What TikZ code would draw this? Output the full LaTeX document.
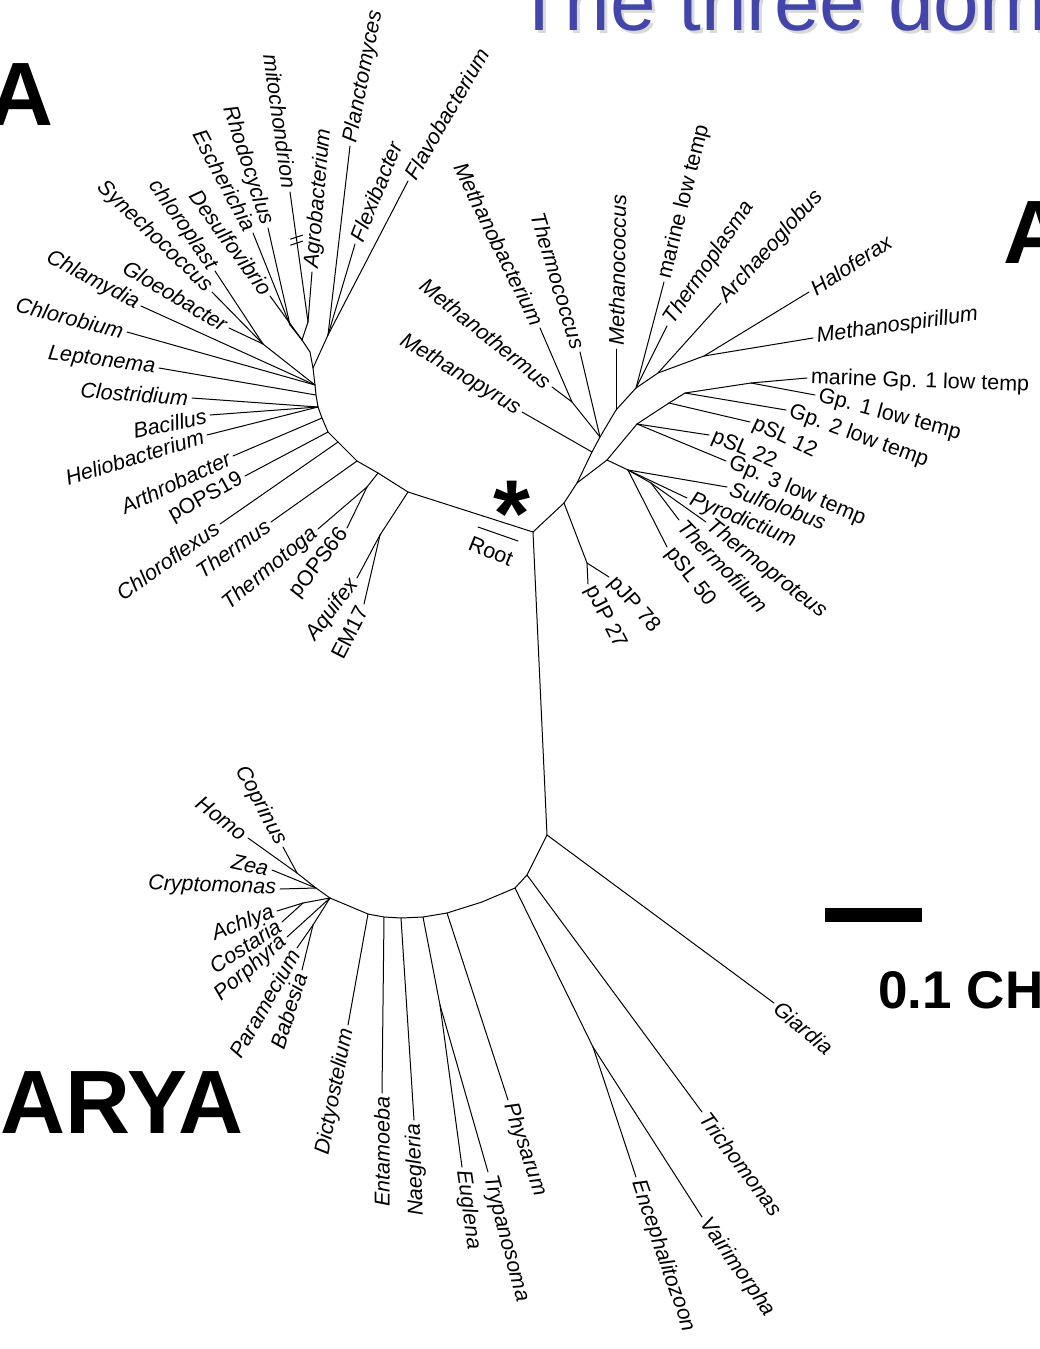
\documentclass[tikz,border=0pt]{standalone}
\usepackage{fontspec}
\setmainfont{Liberation Sans}
\definecolor{titleblue}{RGB}{66,70,170}
\tikzset{
  taxon/.style={font=\fontsize{21.5}{25}\selectfont\itshape,inner sep=3.5pt},
  clone/.style={font=\fontsize{21.5}{25}\selectfont,inner sep=3.5pt},
  domainlabel/.style={font=\fontsize{90}{94}\selectfont\bfseries,inner sep=0pt},
}
\begin{document}
\begin{tikzpicture}[x=1pt,y=-1pt,line width=1pt,line join=round,line cap=round]
\useasboundingbox (0,0) rectangle (1040,1349);
% headings
\node[anchor=base west,inner sep=0,text=black!15,font=\fontsize{82}{90}\selectfont](titleshadow)at(517, 33){The three dom};
\node[anchor=base west,inner sep=0,text=titleblue,font=\fontsize{82}{90}\selectfont](title)at(514, 30){The three dom};
\node[domainlabel,anchor=base east](bactA)at(54, 125){A};
\node[domainlabel,anchor=base west](archA)at(1003, 263){A};
\node[domainlabel,anchor=base west](eukA)at(0, 1133){ARYA};
\fill (825,908) rectangle (922,922);
\node[anchor=base west,inner sep=0,font=\fontsize{53}{60}\selectfont\bfseries](scale)at(878, 1008){0.1 CH};
\node[anchor=base west,inner sep=0,font=\fontsize{95}{100}\selectfont\bfseries](star)at(493, 546){*};
\node[clone,rotate=-22](rootlab)at(491, 551){Root};
\coordinate(rootA)at(478, 527);
\coordinate(rootB)at(518, 541);
\draw (rootA) -- (rootB);
% internal points
\coordinate(R)at(533, 532);
\coordinate(b1)at(408, 492);
\coordinate(b2)at(378, 473);
\coordinate(b3)at(357, 461);
\coordinate(b4)at(338, 442);
\coordinate(b5)at(328, 432);
\coordinate(b6)at(322, 418);
\coordinate(b7)at(318, 407);
\coordinate(b8)at(316, 395);
\coordinate(b9)at(315, 385);
\coordinate(b10)at(313, 368);
\coordinate(b11)at(310, 352);
\coordinate(aq)at(380, 535);
\coordinate(tt)at(367, 487);
\coordinate(cy)at(263, 344);
\coordinate(pl)at(328, 335);
\coordinate(pr)at(302, 340);
\coordinate(al)at(308, 322);
\coordinate(bg)at(290, 325);
\coordinate(a1)at(564, 503);
\coordinate(e1)at(577, 483);
\coordinate(e2)at(592, 452);
\coordinate(e3)at(600, 437);
\coordinate(e4)at(616, 410);
\coordinate(e5)at(636, 388);
\coordinate(e6)at(658, 373);
\coordinate(hh)at(704, 356);
\coordinate(mm)at(572, 402);
\coordinate(c1)at(607, 460);
\coordinate(c2)at(637, 424);
\coordinate(c3)at(669, 403);
\coordinate(c4)at(685, 393);
\coordinate(g1)at(751, 383);
\coordinate(ch)at(628, 470);
\coordinate(tp)at(651, 483);
\coordinate(pj)at(587, 563);
\coordinate(E0)at(547, 835);
\coordinate(E1)at(527, 875);
\coordinate(E2)at(515, 888);
\coordinate(E2b)at(482, 902);
\coordinate(E3)at(447, 913);
\coordinate(E4)at(423, 917);
\coordinate(E5)at(401, 918);
\coordinate(E6)at(384, 917);
\coordinate(E7)at(368, 914);
\coordinate(K0)at(330, 898);
\coordinate(K1)at(316, 888);
\coordinate(op)at(297, 873);
\coordinate(vj)at(593, 1047);
\coordinate(et)at(440, 1005);
\coordinate(st)at(303, 903);
\coordinate(av)at(313, 925);
% bacteria
\node[taxon,anchor=west,rotate=79](planct)at(350, 146){Planctomyces};
\node[taxon,anchor=west,rotate=60](flavo)at(408, 181){Flavobacterium};
\node[taxon,anchor=west,rotate=68](flexi)at(355, 244){Flexibacter};
\node[taxon,anchor=west,rotate=85](agro)at(312, 272){Agrobacterium};
\node[taxon,anchor=east,rotate=-82](mito)at(290, 192){mitochondrion};
\node[taxon,anchor=east,rotate=-72](rhodo)at(268, 228){Rhodocyclus};
\node[taxon,anchor=east,rotate=-62](esch)at(253, 233){Escherichia};
\node[taxon,anchor=east,rotate=-54](desulfo)at(270, 296){Desulfovibrio};
\node[taxon,anchor=east,rotate=-55](chloro)at(215, 271){chloroplast};
\node[taxon,anchor=east,rotate=-44](synecho)at(212, 292){Synechococcus};
\node[taxon,anchor=east,rotate=-31](gloeo)at(229, 328){Gloeobacter};
\node[taxon,anchor=east,rotate=-28](chlamy)at(141, 306){Chlamydia};
\node[taxon,anchor=east,rotate=-14](chlorob)at(127, 332){Chlorobium};
\node[taxon,anchor=east,rotate=-7](lepto)at(159, 368){Leptonema};
\node[taxon,anchor=east,rotate=-4](clostr)at(192, 398){Clostridium};
\node[taxon,anchor=east,rotate=12](bacil)at(210, 415){Bacillus};
\node[taxon,anchor=east,rotate=17](helio)at(207, 435){Heliobacterium};
\node[taxon,anchor=east,rotate=25](arthro)at(233, 456){Arthrobacter};
\node[clone,anchor=east,rotate=29](pops19)at(245, 476){pOPS19};
\node[taxon,anchor=east,rotate=35](chlflex)at(220, 524){Chloroflexus};
\node[taxon,anchor=east,rotate=35](thermus)at(271, 522){Thermus};
\node[taxon,anchor=east,rotate=40](thtoga)at(318, 529){Thermotoga};
\node[clone,anchor=east,rotate=52](pops66)at(347, 528){pOPS66};
\node[taxon,anchor=east,rotate=53](aquifex)at(357, 578){Aquifex};
\node[clone,anchor=east,rotate=63](em17)at(364, 604){EM17};
% archaea
\node[taxon,anchor=east,rotate=-31](mpyrus)at(522, 412){Methanopyrus};
\node[taxon,anchor=east,rotate=-39](mthermus)at(552, 387){Methanothermus};
\node[taxon,anchor=east,rotate=-64](mbact)at(540, 328){Methanobacterium};
\node[taxon,anchor=east,rotate=-73](thcoccus)at(580, 352){Thermococcus};
\node[taxon,anchor=west,rotate=89](mcoccus)at(616, 349){Methanococcus};
\node[clone,anchor=west,rotate=76](marlow)at(664, 282){marine low temp};
\node[taxon,anchor=west,rotate=56](thplasma)at(667, 326){Thermoplasma};
\node[taxon,anchor=west,rotate=48](archaeo)at(721, 303){Archaeoglobus};
\node[taxon,anchor=west,rotate=33](hfx)at(809, 292){Haloferax};
\node[taxon,anchor=west,rotate=8](mspir)at(813, 338){Methanospirillum};
\node[clone,anchor=west,rotate=-2](margp1)at(807, 378){marine Gp. 1 low temp};
\node[clone,anchor=west,rotate=-15](gp1)at(815, 395){Gp. 1 low temp};
\node[clone,anchor=west,rotate=-20](gp2)at(786, 410){Gp. 2 low temp};
\node[clone,anchor=west,rotate=-25](psl12)at(750, 422){pSL 12};
\node[clone,anchor=west,rotate=-23](psl22)at(709, 435){pSL 22};
\node[clone,anchor=west,rotate=-23](gp3)at(726, 461){Gp. 3 low temp};
\node[taxon,anchor=west,rotate=-20](sulfo)at(727, 487){Sulfolobus};
\node[taxon,anchor=west,rotate=-22](pyro)at(687, 498){Pyrodictium};
\node[taxon,anchor=west,rotate=-38](thprot)at(706, 522){Thermoproteus};
\node[taxon,anchor=west,rotate=-46](thfil)at(679, 520){Thermofilum};
\node[clone,anchor=west,rotate=-52](psl50)at(667, 547){pSL 50};
\node[clone,anchor=west,rotate=-49](pjp78)at(609, 577){pJP 78};
\node[clone,anchor=west,rotate=-63](pjp27)at(588, 584){pJP 27};
% eukarya
\node[taxon,anchor=west,rotate=-40](giardia)at(774, 1003){Giardia};
\node[taxon,anchor=west,rotate=-53](tricho)at(702, 1112){Trichomonas};
\node[taxon,anchor=west,rotate=-55](vairi)at(702, 1217){Vairimorpha};
\node[taxon,anchor=west,rotate=-71](enceph)at(636, 1177){Encephalitozoon};
\node[taxon,anchor=west,rotate=-71](physar)at(508, 1100){Physarum};
\node[taxon,anchor=west,rotate=-75](trypa)at(488, 1172){Trypanosoma};
\node[taxon,anchor=west,rotate=-82](eugl)at(462, 1167){Euglena};
\node[taxon,anchor=east,rotate=92](naeg)at(414, 1120){Naegleria};
\node[taxon,anchor=east,rotate=90](entam)at(382, 1093){Entamoeba};
\node[taxon,anchor=east,rotate=79](dicty)at(348, 1025){Dictyostelium};
\node[taxon,anchor=east,rotate=-62](copr)at(283, 847){Coprinus};
\node[taxon,anchor=east,rotate=-37](homo)at(248, 838){Homo};
\node[taxon,anchor=east,rotate=-12](zea)at(272, 870){Zea};
\node[taxon,anchor=east,rotate=-2](crypto)at(280, 889){Cryptomonas};
\node[taxon,anchor=east,rotate=21](achlya)at(277, 911){Achlya};
\node[taxon,anchor=east,rotate=33](costar)at(282, 922){Costaria};
\node[taxon,anchor=east,rotate=41](porph)at(287, 937){Porphyra};
\node[taxon,anchor=east,rotate=60](param)at(297, 948){Paramecium};
\node[taxon,anchor=east,rotate=72](babes)at(302, 970){Babesia};
% backbones
\draw (R) -- (b1) -- (b2) -- (b3) -- (b4) -- (b5) -- (b6) -- (b7) -- (b8) -- (b9) -- (b10) -- (b11);
\draw (R) -- (a1) -- (e1) -- (e2) -- (e3) -- (e4) -- (e5) -- (e6) -- (hh);
\draw (e1) -- (c1) -- (c2) -- (c3) -- (c4) -- (g1);
\draw (R) -- (E0) -- (E1) -- (E2) -- (E2b) -- (E3) -- (E4) -- (E5) -- (E6) -- (E7) -- (K0) -- (K1) -- (op);
% branches
\path (b1) edge (aq) (aq) edge (aquifex.east) (aq) edge (em17.east)
      (b2) edge (tt) (tt) edge (thtoga.east) (tt) edge (pops66.east)
      (b3) edge (thermus.east)
      (b4) edge (chlflex.east)
      (b5) edge (pops19.east)
      (b6) edge (arthro.east)
      (b7) edge (helio.east) (b7) edge (bacil.east) (b7) edge (clostr.east)
      (b8) edge (lepto.east)
      (b9) edge (chlorob.east) (b9) edge (chlamy.east) (b9) edge (cy)
      (cy) edge (gloeo.east) (cy) edge (synecho.east) (cy) edge (chloro.east)
      (b10) edge (pl) (pl) edge (planct.west) (pl) edge (flexi.west) (pl) edge (flavo.west)
      (b11) edge (pr) (pr) edge (desulfo.east) (pr) edge (bg) (pr) edge (al)
      (bg) edge (esch.east) (bg) edge (rhodo.east)
      (al) edge (agro.west) (al) edge (mito.east);
\path (al) -- (mito.east) coordinate[pos=0.63](mbrk);
\draw ([shift={(-6,-1)}]mbrk) -- ([shift={(6,-5)}]mbrk);
\draw ([shift={(-6,5)}]mbrk) -- ([shift={(6,1)}]mbrk);
\path (e2) edge (mpyrus.east)
      (e3) edge (mm) (mm) edge (mthermus.east) (mm) edge (mbact.east)
      (e3) edge (thcoccus.east)
      (e4) edge (mcoccus.west)
      (e5) edge (marlow.west) (e5) edge (thplasma.west)
      (e6) edge (archaeo.west)
      (hh) edge (hfx.west) (hh) edge (mspir.west)
      (g1) edge (margp1.west) (g1) edge (gp1.west)
      (c4) edge (gp2.west)
      (c3) edge (psl12.west)
      (c2) edge (psl22.west) (c2) edge (gp3.west)
      (c1) edge (ch) (ch) edge (sulfo.west) (ch) edge (pyro.west) (ch) edge (psl50.west)
      (ch) edge (tp) (tp) edge (thprot.west) (tp) edge (thfil.west)
      (a1) edge (pj) (pj) edge (pjp78.west) (pj) edge (pjp27.west);
\path (E0) edge (giardia.west)
      (E1) edge (tricho.west)
      (E2) edge (vj) (vj) edge (vairi.west) (vj) edge (enceph.west)
      (E3) edge (physar.west)
      (E4) edge (et) (et) edge (eugl.west) (et) edge (trypa.west)
      (E5) edge (naeg.east)
      (E6) edge (entam.east)
      (E7) edge (dicty.east)
      (op) edge (copr.east) (op) edge (homo.east)
      (K1) edge (zea.east) (K1) edge (crypto.east)
      (K0) edge (st) (st) edge (achlya.east) (st) edge (costar.east)
      (K0) edge (porph.east)
      (K0) edge (av) (av) edge (param.east) (av) edge (babes.east);
\end{tikzpicture}
\end{document}
